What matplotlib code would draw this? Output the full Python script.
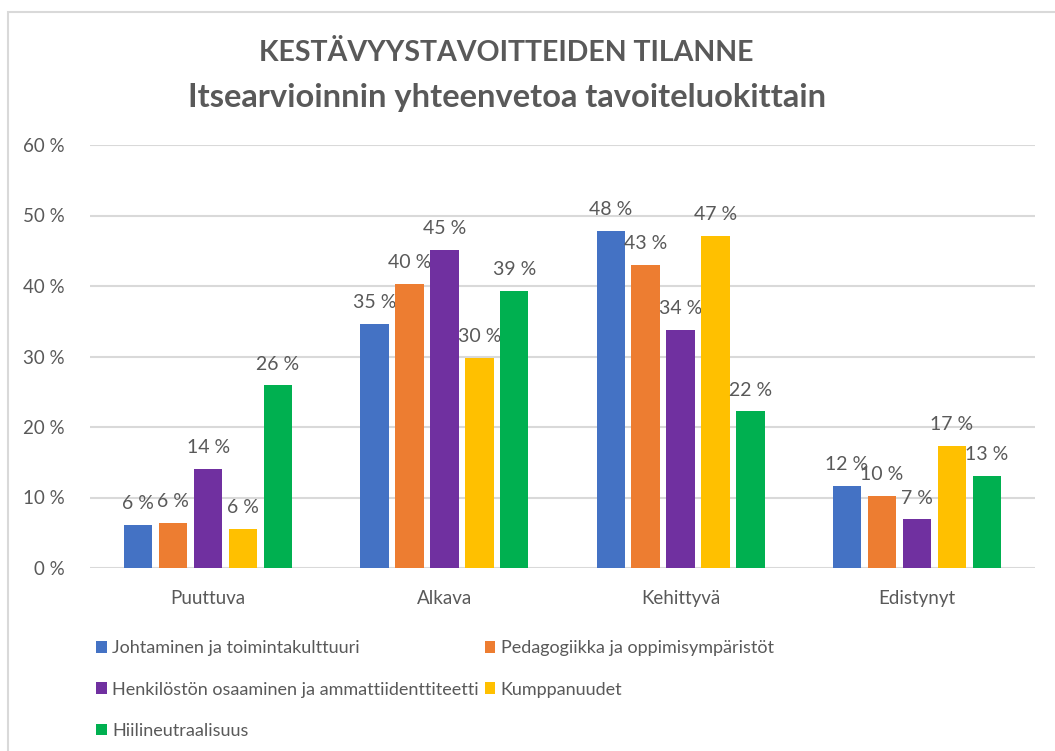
import matplotlib.pyplot as plt
import numpy as np
from matplotlib.patches import Rectangle

categories = ['Puuttuva', 'Alkava', 'Kehittyvä', 'Edistynyt']
series = ['Johtaminen ja toimintakulttuuri',
          'Pedagogiikka ja oppimisympäristöt',
          'Henkilöstön osaaminen ja ammattiidenttiteetti',
          'Kumppanuudet',
          'Hiilineutraalisuus']
johtaminen = [6.1, 34.6, 47.8, 11.7]
pedagogiikka = [6.4, 40.3, 43.0, 10.2]
henkilosto = [14.1, 45.1, 33.8, 6.9]
kumppanuudet = [5.6, 29.8, 47.1, 17.3]
hiilineutraali = [25.9, 39.3, 22.2, 13.1]
colors = ['#4472c4', '#ed7d31', '#7030a0', '#ffc000', '#00b050']
yticks = [0, 10, 20, 30, 40, 50, 60]

values = [johtaminen, pedagogiikka, henkilosto, kumppanuudet, hiilineutraali]
grey = '#595959'
plt.rcParams['font.family'] = ['Lato', 'DejaVu Sans']

fig = plt.figure(figsize=(10.55, 7.51), dpi=100)
fig.patches.append(Rectangle((8 / 1055, -0.1), 1.2, 1 - 12 / 751 + 0.1,
                             transform=fig.transFigure, fill=False,
                             edgecolor='#d9d9d9', linewidth=1.5))
ax = fig.add_axes([90 / 1055, 1 - 568 / 751, 945 / 1055, (568 - 145) / 751])

x = np.arange(len(categories))
slot = 0.148
width = 0.12
for i, (vals, col) in enumerate(zip(values, colors)):
    pos = x + (i - 2) * slot
    bars = ax.bar(pos, vals, width, color=col, label=series[i], zorder=3)
    for b, v in zip(bars, vals):
        ax.text(b.get_x() + b.get_width() / 2, v + 1.8, f'{round(v)} %',
                ha='center', va='bottom', fontsize=14, color=grey)

ax.set_xlim(-0.5, 3.5)
ax.set_ylim(0, 60)
ax.set_yticks(yticks)
ax.set_yticklabels([f'{t} %' for t in yticks], fontsize=13.5, color=grey)
ax.set_xticks(x)
ax.set_xticklabels(categories, fontsize=13.5, color=grey)
ax.tick_params(length=0)
ax.tick_params(axis='y', pad=18)
ax.tick_params(axis='x', pad=16)
ax.grid(axis='y', color='#d9d9d9', linewidth=1.5, zorder=0)
for s in ax.spines.values():
    s.set_visible(False)

fig.text(506 / 1055, 1 - 53 / 751, 'KESTÄVYYSTAVOITTEIDEN TILANNE', ha='center', va='center',
         fontsize=20.5, fontweight='bold', color=grey)
fig.text(507 / 1055, 1 - 97 / 751, 'Itsearvioinnin yhteenvetoa tavoiteluokittain', ha='center',
         va='center', fontsize=23.5, fontweight='bold', color=grey)

handles, labels = ax.get_legend_handles_labels()
order = [0, 2, 4, 1, 3]
fig.legend([handles[k] for k in order], [labels[k] for k in order], ncol=2,
           loc='upper left', bbox_to_anchor=(80 / 1055, 1 - 624 / 751),
           frameon=False, fontsize=13, labelcolor=grey, handlelength=0.6,
           handleheight=0.6, handletextpad=0.3, labelspacing=1.4, columnspacing=0.3)

fig.savefig('out.png', dpi=100)
